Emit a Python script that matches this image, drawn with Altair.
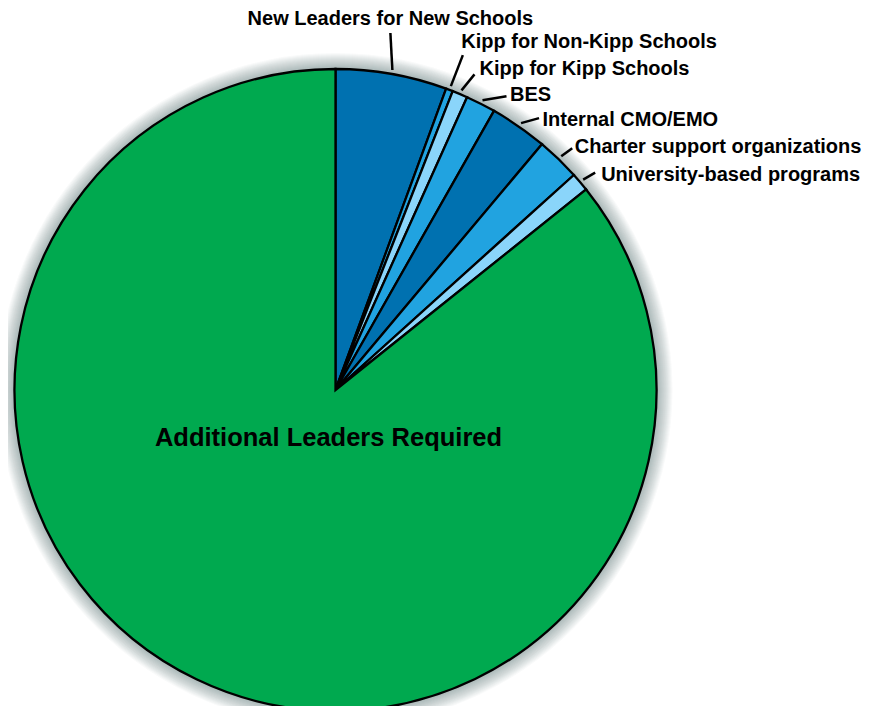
import altair as alt
import pandas as pd
import numpy as np

# ---- data ----
labels = [
    "New Leaders for New Schools",
    "Kipp for Non-Kipp Schools",
    "Kipp for Kipp Schools",
    "BES",
    "Internal CMO/EMO",
    "Charter support organizations",
    "University-based programs",
    "Additional Leaders Required",
]
shares = [5.6, 0.35, 0.77, 1.5, 2.9, 2.2, 0.94, 85.74]
colors = ["#0071B0", "#21A3E0", "#8AD5FA", "#21A3E0", "#0071B0", "#21A3E0", "#8AD5FA", "#00A94F"]

# ---- layout (page pixel units) ----
W, H = 859, 698
CX, CY, R = 335.5, 390.0, 321
leader_vec = [(-2, -37), (12, -31), (13, -16), (24, -4), (18, -5), (11, -8), (12, -7)]
text_off = [(0, -8), (-1.5, -7), (5, 1), (3.5, 5), (3.5, 7.5), (2.5, 5), (6, 8.5)]
big_off = (-7, 56)
FONT = "Liberation Sans"

xs = alt.Scale(domain=[8, 8 + W], nice=False, zero=False)
ys = alt.Scale(domain=[8, 8 + H], nice=False, zero=False, reverse=True)

df = pd.DataFrame({"label": labels, "share": shares, "idx": range(len(labels))})
df["cx"] = CX
df["cy"] = CY
cum = np.cumsum(shares)
start = np.concatenate([[0], cum[:-1]])
mid = np.deg2rad((start + cum) / 2 * 3.6)

rows = []
for i in range(7):
    sx = CX + (R + 4) * np.sin(mid[i])
    sy = CY - (R + 4) * np.cos(mid[i])
    ex, ey = sx + leader_vec[i][0], sy + leader_vec[i][1]
    tx, ty = ex + text_off[i][0], ey + text_off[i][1]
    rows.append({"label": labels[i], "sx": sx, "sy": sy, "ex": ex, "ey": ey, "tx": tx, "ty": ty})
ldf = pd.DataFrame(rows)
big = pd.DataFrame({"label": [labels[-1]], "tx": [CX + big_off[0]], "ty": [CY + big_off[1]]})

base_xy = dict(
    x=alt.X("cx:Q", scale=xs, axis=None),
    y=alt.Y("cy:Q", scale=ys, axis=None),
)

# soft shadow rings around the pie
center_df = pd.DataFrame({"cx": [CX], "cy": [CY]})
rings = []
for k in range(1, 17):
    rings.append(
        alt.Chart(center_df)
        .mark_arc(theta=0, theta2=2 * np.pi, innerRadius=R - 2, outerRadius=R + k * 1.0,
                  color="#2a3a55", opacity=0.028)
        .encode(**base_xy)
    )

pie = (
    alt.Chart(df)
    .mark_arc(outerRadius=R, stroke="black", strokeWidth=2.3)
    .encode(
        theta=alt.Theta("share:Q", stack=True),
        order=alt.Order("idx:Q"),
        color=alt.Color("label:N", scale=alt.Scale(domain=labels, range=colors), legend=None),
        **base_xy,
    )
)

leaders = (
    alt.Chart(ldf)
    .mark_rule(color="black", strokeWidth=2.5)
    .encode(
        x=alt.X("sx:Q", scale=xs, axis=None),
        y=alt.Y("sy:Q", scale=ys, axis=None),
        x2="ex:Q",
        y2="ey:Q",
    )
)

txt_center = (
    alt.Chart(ldf.iloc[[0]])
    .mark_text(align="center", baseline="alphabetic", font=FONT, fontWeight="bold", fontSize=20, color="black")
    .encode(x=alt.X("tx:Q", scale=xs, axis=None), y=alt.Y("ty:Q", scale=ys, axis=None), text="label:N")
)
txt_left = (
    alt.Chart(ldf.iloc[1:])
    .mark_text(align="left", baseline="alphabetic", font=FONT, fontWeight="bold", fontSize=20, color="black")
    .encode(x=alt.X("tx:Q", scale=xs, axis=None), y=alt.Y("ty:Q", scale=ys, axis=None), text="label:N")
)
txt_big = (
    alt.Chart(big)
    .mark_text(align="center", baseline="alphabetic", font=FONT, fontWeight="bold", fontSize=25.5, color="black")
    .encode(x=alt.X("tx:Q", scale=xs, axis=None), y=alt.Y("ty:Q", scale=ys, axis=None), text="label:N")
)

chart = (
    alt.layer(*rings, pie, leaders, txt_center, txt_left, txt_big)
    .properties(width=W, height=H, padding=0, autosize=alt.AutoSizeParams(type="none"), background="white")
    .configure_view(stroke=None)
)

chart.save("out.html", embed_options={"renderer": "svg", "actions": False})
